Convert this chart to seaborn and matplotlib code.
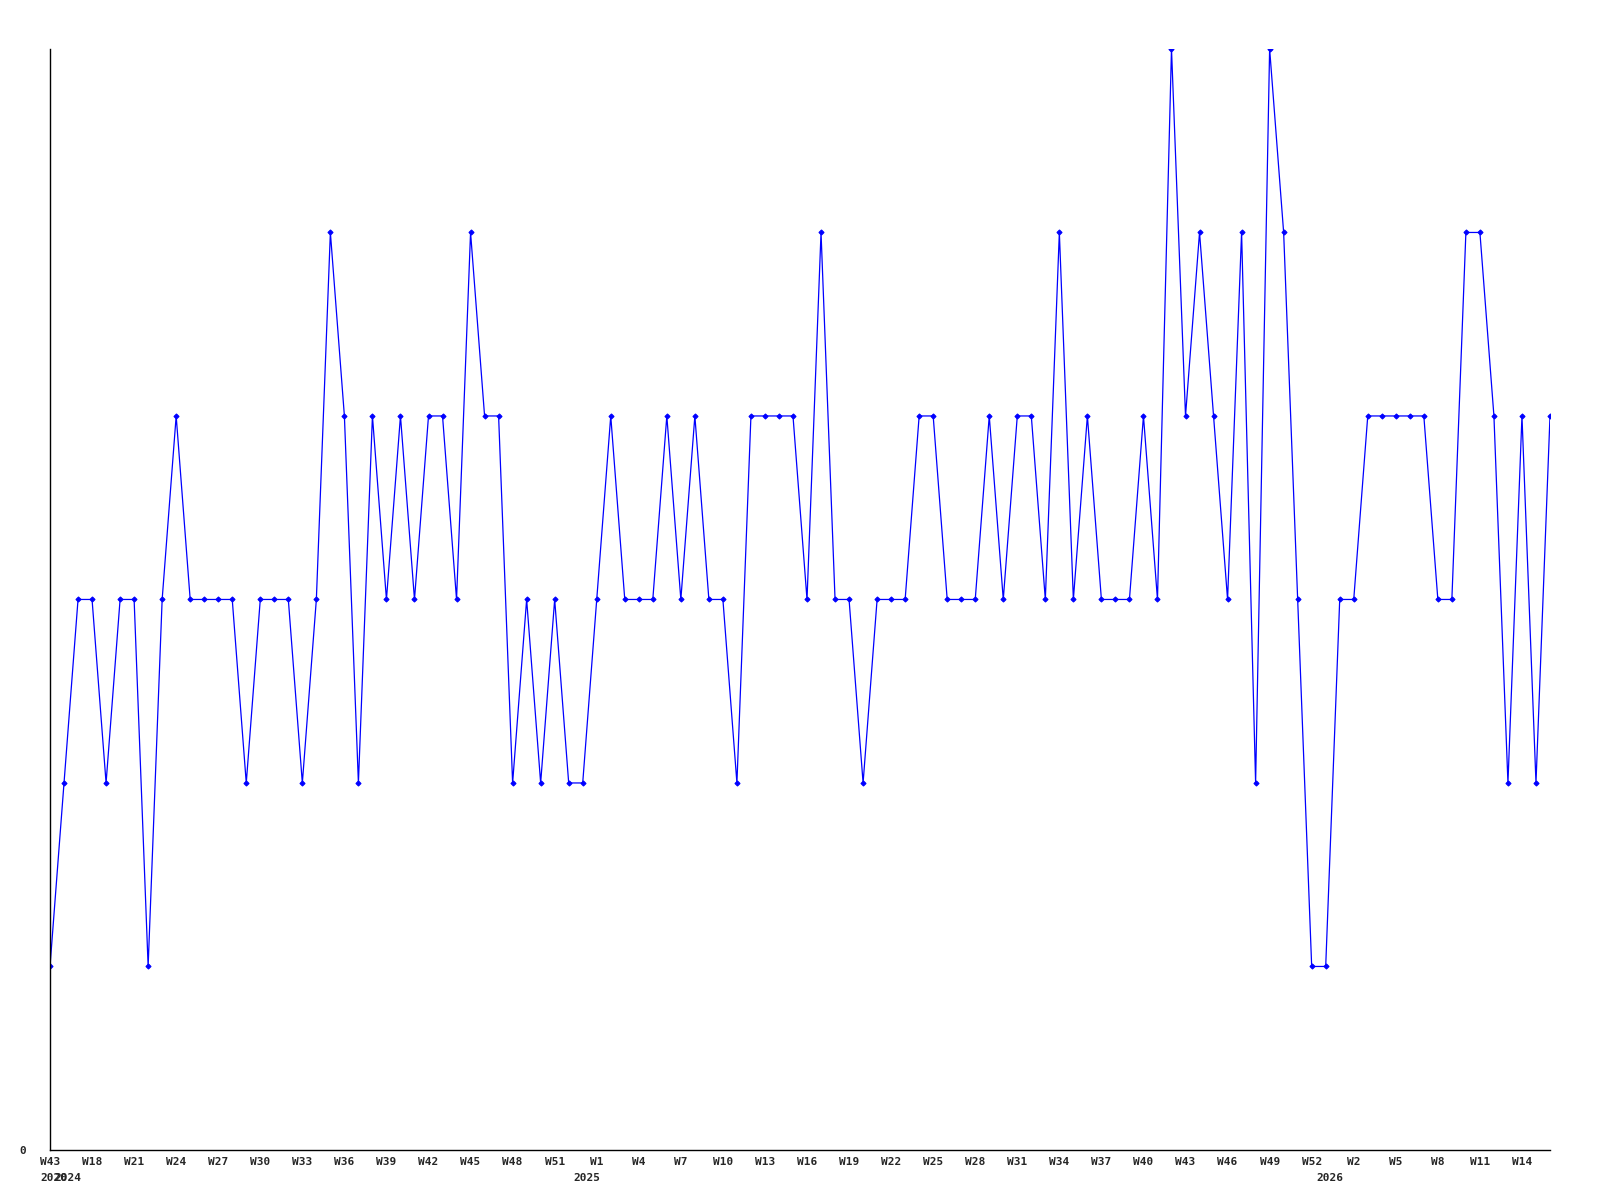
import numpy as np
import pandas as pd
import matplotlib
matplotlib.use('Agg')
import matplotlib.pyplot as plt
import seaborn as sns

LINE_COLOR = '#0000ff'
FONT = dict(family='DejaVu Sans Mono', weight='bold', size=8)

# one point per week; week number as printed on the axis
weeks = ([43] + list(range(16, 53)) + list(range(0, 53)) + list(range(0, 17)))
years = ([2020] + [2024] * 37 + [2025] * 53 + [2026] * 17)

counts = [1, 2, 3, 3, 2, 3, 3, 1, 3, 4,
          3, 3, 3, 3, 2, 3, 3, 3, 2, 3,
          5, 4, 2, 4, 3, 4, 3, 4, 4, 3,
          5, 4, 4, 2, 3, 2, 3, 2, 2, 3,
          4, 3, 3, 3, 4, 3, 4, 3, 3, 2,
          4, 4, 4, 4, 3, 5, 3, 3, 2, 3,
          3, 3, 4, 4, 3, 3, 3, 4, 3, 4,
          4, 3, 5, 3, 4, 3, 3, 3, 4, 3,
          6, 4, 5, 4, 3, 5, 2, 6, 5, 3,
          1, 1, 3, 3, 4, 4, 4, 4, 4, 3,
          3, 5, 5, 4, 2, 4, 2, 4]

df = pd.DataFrame({'pos': np.arange(len(counts)), 'week': weeks,
                   'year': years, 'count': counts})

sns.set_style('white')
fig = plt.figure(figsize=(16, 12), dpi=100)
ax = fig.add_axes([0.03125, 0.0417, 0.9375, 0.9175])

sns.lineplot(data=df, x='pos', y='count', ax=ax, color=LINE_COLOR,
             linewidth=0.9, marker='D', markersize=2.6,
             markeredgecolor=LINE_COLOR, sort=False)

ax.set_xlim(0, len(counts) - 1)
ax.set_ylim(0, max(counts))

# week labels every third point
tick_pos = df.pos[::3]
ax.set_xticks(tick_pos)
ax.set_xticklabels(['W%d' % w for w in df.week[::3]], **FONT)
ax.set_yticks([0])
ax.set_yticklabels(['0'], **FONT)
ax.tick_params(axis='x', length=0, pad=5)
ax.tick_params(axis='y', length=0, pad=17)

# year under the first week of each year (2020 and 2024 run together, as in the source)
first = df.groupby('year').pos.min()
for yr, p in first.items():
    ax.annotate(str(yr), xy=(p + 0.3, 0), xycoords=('data', 'axes fraction'),
                xytext=(0, -20), textcoords='offset points',
                ha='center', va='center', **FONT)

ax.set_xlabel('')
ax.set_ylabel('')
for s in ['top', 'right']:
    ax.spines[s].set_visible(False)
for s in ['left', 'bottom']:
    ax.spines[s].set_color('k')
    ax.spines[s].set_linewidth(1.0)
ax.grid(False)

plt.savefig('out.png', dpi=100)
plt.close()
